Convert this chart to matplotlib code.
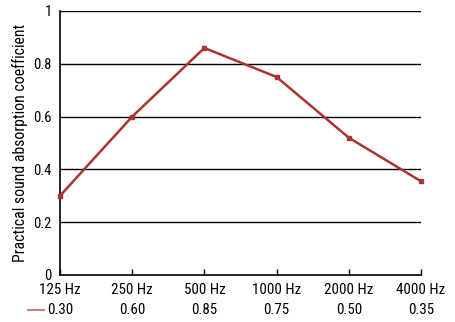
import matplotlib
matplotlib.use("Agg")
import matplotlib.pyplot as plt

plt.rcParams['font.family'] = ['Roboto Condensed', 'DejaVu Sans']

categories = ["125 Hz", "250 Hz", "500 Hz", "1000 Hz", "2000 Hz", "4000 Hz"]
values = [0.30, 0.60, 0.86, 0.75, 0.52, 0.355]
table_labels = ["0.30", "0.60", "0.85", "0.75", "0.50", "0.35"]
yticks = [0, 0.2, 0.4, 0.6, 0.8, 1]
ytick_labels = ["0", "0.2", "0.4", "0.6", "0.8", "1"]

W, H = 455, 322
fig = plt.figure(figsize=(W/100, H/100), dpi=100)
ax = fig.add_axes([60/W, 1 - 275/H, (421-60)/W, (275-11)/H])

color = "#a83434"
x = list(range(len(categories)))
ax.plot(x, values, color=color, lw=1.8, marker="s", ms=3, zorder=3, clip_on=False)

ax.set_xlim(0, len(categories) - 1)
ax.set_ylim(0, 1)
ax.set_yticks(yticks)
ax.set_yticklabels(ytick_labels, fontsize=10.5)
for yv in yticks[1:]:
    ax.axhline(yv, color="black", lw=1.0, zorder=1)
ax.set_xticks(x)
ax.set_xticklabels([])
ax.tick_params(axis="y", length=0, pad=6)
ax.tick_params(axis="x", direction="in", length=4, width=1, color="black")
for s in ["top", "right"]:
    ax.spines[s].set_visible(False)
ax.spines["left"].set_linewidth(1.2)
ax.spines["bottom"].set_linewidth(1.2)
ax.set_ylabel("Practical sound absorption coefficient", fontsize=11.3, labelpad=4)

for i, (c, t) in enumerate(zip(categories, table_labels)):
    ax.text(i, -0.056, c, ha="center", va="center", fontsize=10.8, clip_on=False)
    ax.text(i, -0.133, t, ha="center", va="center", fontsize=10.8, clip_on=False)

fig.add_artist(plt.Line2D([28/W, 44/W], [1 - 310/H, 1 - 310/H], color="#c46060", lw=1.2))

fig.savefig("out.png", dpi=100)
